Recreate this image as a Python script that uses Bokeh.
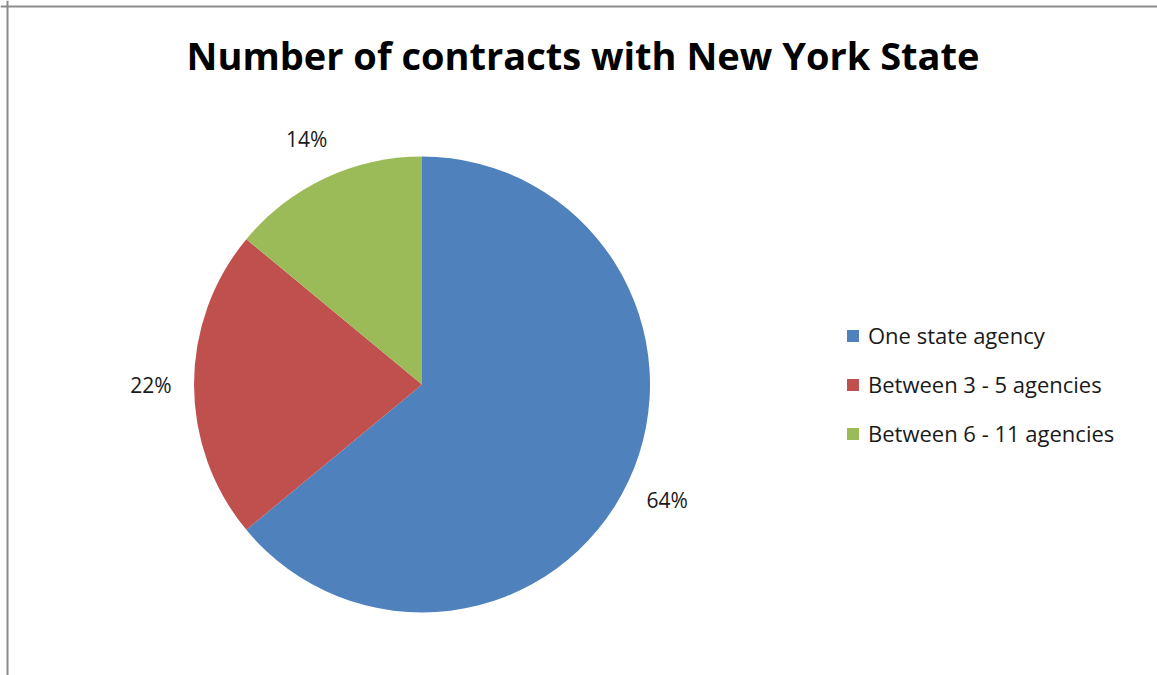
import math
from bokeh.plotting import figure
from bokeh.models import ColumnDataSource, Range1d, Legend, LegendItem, Label, Span
from bokeh.core.properties import value
from bokeh.embed import file_html
from bokeh.resources import INLINE

# ---- data ----
categories = ["One state agency", "Between 3 - 5 agencies", "Between 6 - 11 agencies"]
shares = [64, 22, 14]
colors = ["#4F81BD", "#C0504D", "#9BBB59"]
title_text = "Number of contracts with New York State"

# ---- geometry (pixels == data units) ----
W, H = 1157, 675
CX_PX, CY_PX = 421.5, 384          # pie centre inside the figure (from top-left)
RADIUS = 228
LABEL_R = 271

total = float(sum(shares))
starts, ends, mids = [], [], []
acc = 0.0
for s in shares:
    a_end = math.pi / 2 - 2 * math.pi * acc / total
    acc += s
    a_start = math.pi / 2 - 2 * math.pi * acc / total
    starts.append(a_start)
    ends.append(a_end)
    mids.append((a_start + a_end) / 2)

src = ColumnDataSource(dict(
    cat=categories, share=shares, color=colors,
    start=starts, end=ends,
    lx=[LABEL_R * math.cos(m) for m in mids],
    ly=[LABEL_R * math.sin(m) for m in mids],
    lab=[f"{s}%" for s in shares],
))

xr = Range1d(-CX_PX, W - CX_PX)
yr = Range1d(-(H - CY_PX), CY_PX)

p = figure(width=W, height=H, x_range=xr, y_range=yr, output_backend="svg",
           toolbar_location=None, min_border=0, tools="")
p.axis.visible = False
p.grid.visible = False
p.outline_line_color = None
p.background_fill_color = "white"
p.border_fill_color = "white"

wedges = []
for i in range(len(categories)):
    r = p.wedge(x=0, y=0, radius=RADIUS, start_angle=starts[i], end_angle=ends[i],
                fill_color=colors[i], line_color=None)
    wedges.append(r)

p.text(x="lx", y="ly", text="lab", source=src, text_align="center",
       text_baseline="middle", text_font=value("Open Sans"), text_font_size="21px",
       text_color="#1a1a1a")

title = Label(x=582.5 - CX_PX, y=CY_PX - 54, text=title_text, text_align="center",
              text_baseline="alphabetic", text_font="Open Sans", text_font_style="bold",
              text_font_size="38px", text_color="#000000")
p.add_layout(title)

legend = Legend(items=[LegendItem(label=categories[i], renderers=[wedges[i]]) for i in range(len(categories))],
                location=(845, 227), orientation="vertical",
                glyph_width=15, glyph_height=15, label_height=30, spacing=19,
                label_standoff=8, padding=0, margin=0,
                label_text_font="Open Sans", label_text_font_size="22px",
                label_text_color="#1a1a1a",
                border_line_color=None, background_fill_alpha=0)
p.add_layout(legend)

# chart-area border (left and top visible in reference)
p.add_layout(Span(location=xr.start + 7, dimension="height", line_color="#8c8c8c", line_width=2))
p.add_layout(Span(location=yr.end - 6, dimension="width", line_color="#8c8c8c", line_width=2))

open("out.html", "w").write(file_html(p, INLINE))
